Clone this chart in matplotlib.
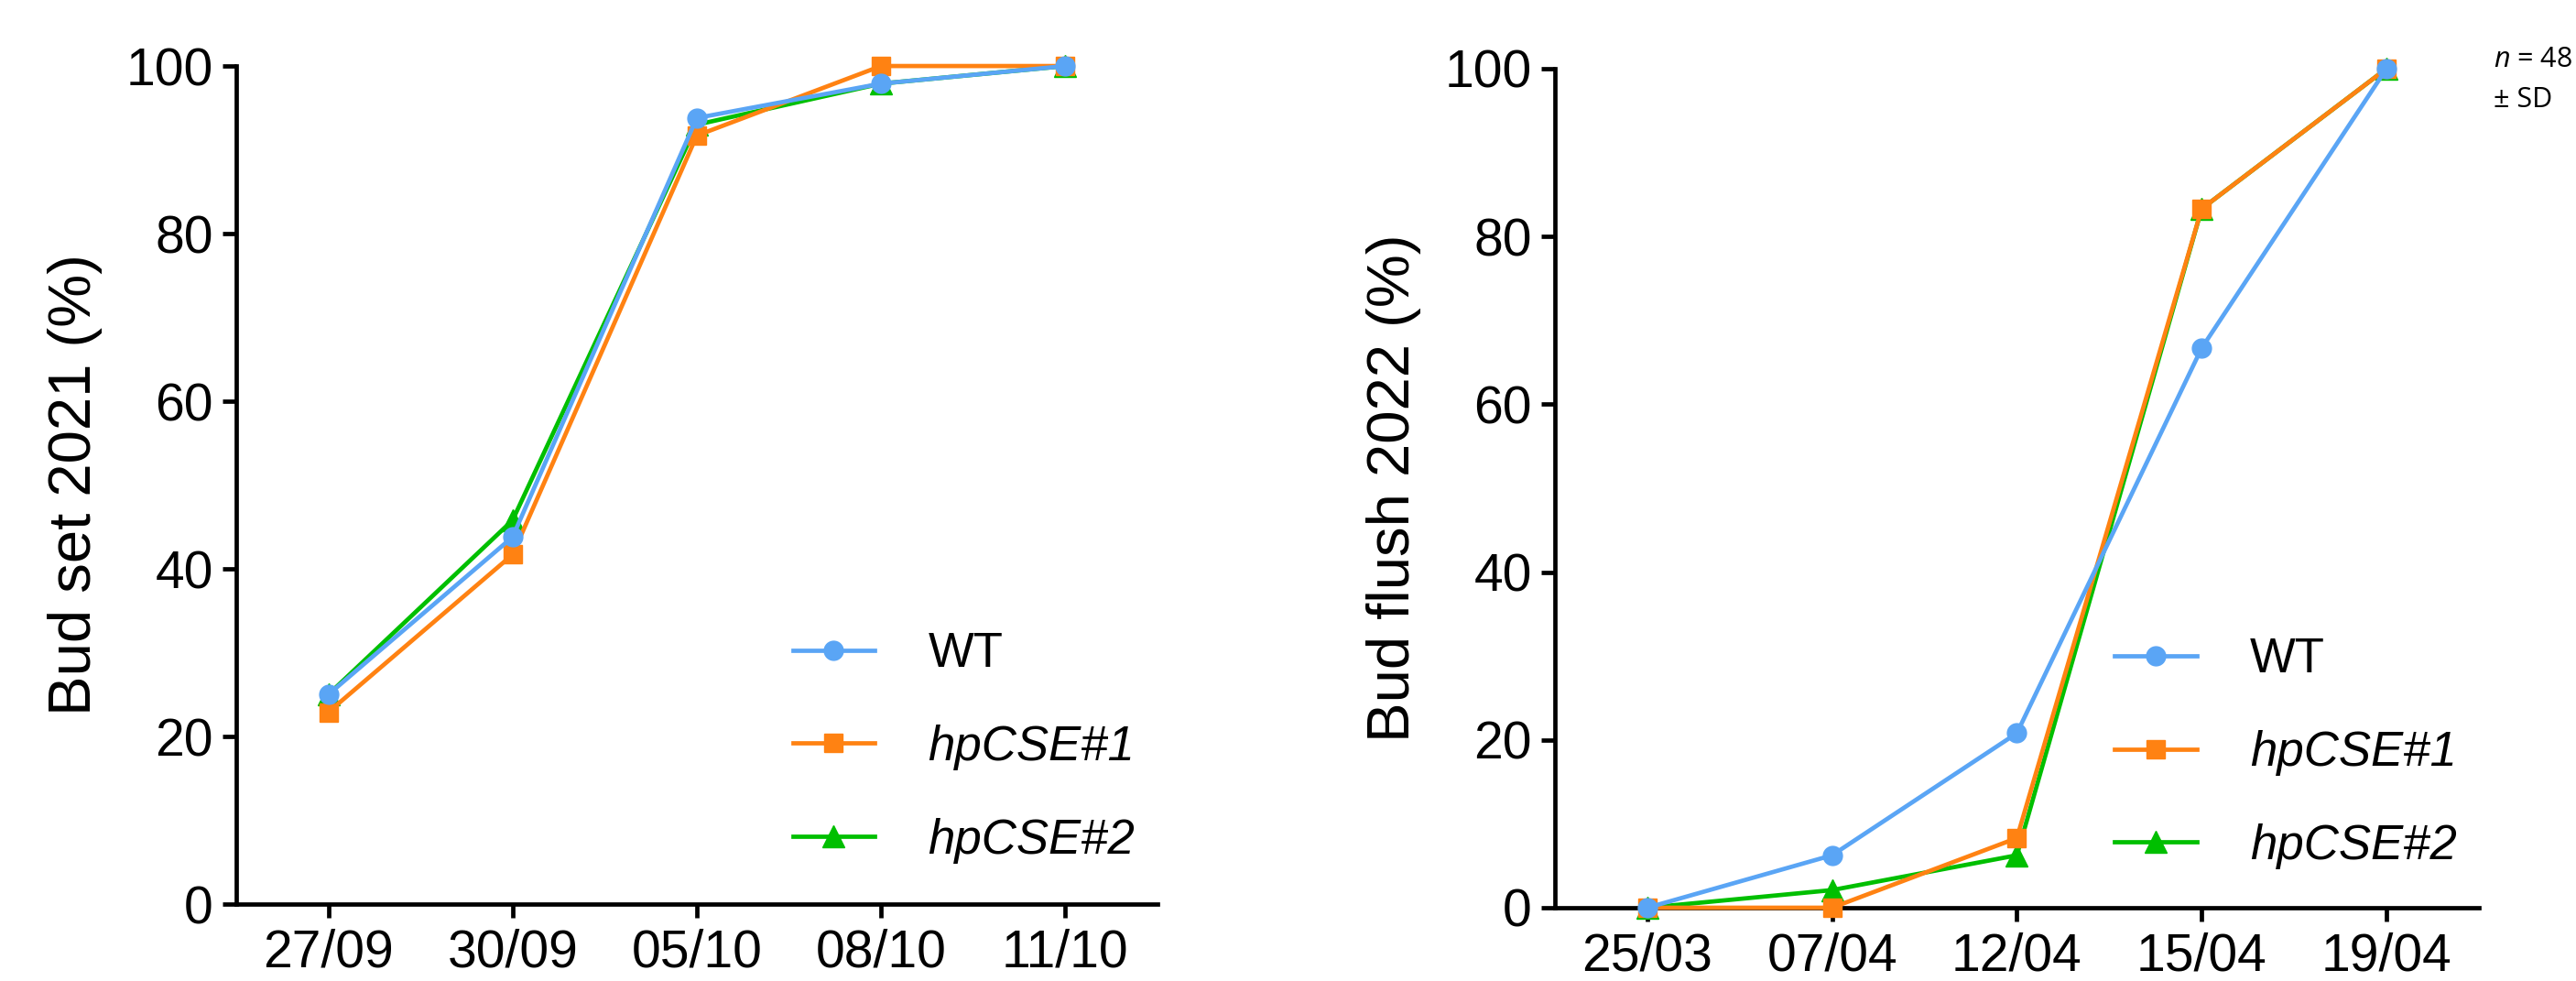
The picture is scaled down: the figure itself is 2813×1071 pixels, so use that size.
import matplotlib
matplotlib.use("Agg")
import matplotlib.pyplot as plt

# Datos
fechas_otono = ['27/09', '30/09', '05/10', '08/10', '11/10']
fechas_primavera = ['25/03', '07/04', '12/04', '15/04', '19/04']

budset_wt = [25.0, 43.8, 93.8, 97.9, 100.0]
budset_cse1 = [22.9, 41.7, 91.7, 100.0, 100.0]
budset_cse2 = [25.0, 45.8, 93.0, 97.9, 100.0]

flush_wt = [0.0, 6.25, 20.8, 66.7, 100.0]
flush_cse1 = [0.0, 0.0, 8.3, 83.3, 100.0]
flush_cse2 = [0.0, 2.1, 6.25, 83.3, 100.0]

nombres = ['WT', 'hpCSE#1', 'hpCSE#2']
colores = ['#5aa5f5', '#ff8212', '#00bf00']
marcadores = ['o', 's', '^']

plt.rcParams['font.family'] = ['Liberation Sans', 'DejaVu Sans']
plt.rcParams['mathtext.fontset'] = 'custom'
plt.rcParams['mathtext.rm'] = 'Open Sans'
plt.rcParams['mathtext.it'] = 'Open Sans:italic'

fig = plt.figure(figsize=(28.13, 10.71), dpi=100)
ax1 = fig.add_axes([0.0917, 0.0784, 0.3576, 0.8543])
ax2 = fig.add_axes([0.6036, 0.0747, 0.3587, 0.8553])


def dibujar(ax, fechas, series, ylabel):
    x = list(range(len(fechas)))
    lineas = []
    # verde abajo, luego naranja, azul arriba
    for i in [2, 1, 0]:
        ms = 17 if marcadores[i] == '^' else 15
        l, = ax.plot(x, series[i], color=colores[i], marker=marcadores[i],
                     markersize=ms, linewidth=3.4, label=nombres[i],
                     zorder=3 + (2 - i), clip_on=False)
        lineas.append(l)
    lineas = lineas[::-1]

    ax.set_xlim(-0.5, 4.5)
    ax.set_ylim(0, 100)
    ax.set_xticks(x)
    ax.set_xticklabels(fechas)
    ax.set_yticks([0, 20, 40, 60, 80, 100])
    for s in ['top', 'right']:
        ax.spines[s].set_visible(False)
    for s in ['left', 'bottom']:
        ax.spines[s].set_linewidth(3.4)
    ax.tick_params(direction='out', length=11, width=3.4, labelsize=41)
    ax.tick_params(axis='x', pad=8)
    ax.tick_params(axis='y', pad=7)
    ax.set_ylabel(ylabel, fontsize=47)
    ax.yaxis.set_label_coords(-0.145, 0.5)
    return lineas


l1 = dibujar(ax1, fechas_otono, [budset_wt, budset_cse1, budset_cse2],
             'Bud set 2021 (%)')
l2 = dibujar(ax2, fechas_primavera, [flush_wt, flush_cse1, flush_cse2],
             'Bud flush 2022 (%)')

for ax, lin, pos in [(ax1, l1, (0.604, 0.187)), (ax2, l2, (0.6055, 0.1845))]:
    leg = ax.legend(lin, nombres, loc='center left', bbox_to_anchor=pos,
                    frameon=False, fontsize=38, handlelength=1.7,
                    handletextpad=1.1, labelspacing=0.98, borderpad=0,
                    borderaxespad=0)
    for t in leg.get_texts()[1:]:
        t.set_fontstyle('italic')

fig.text(2723 / 2813, 1 - 73 / 1071, r'$n$ = 48', fontsize=22,
         family='Open Sans', va='baseline')
fig.text(2723 / 2813, 1 - 117 / 1071, '± SD', fontsize=22,
         family='Open Sans', va='baseline')

plt.savefig('out.png', dpi=100)
plt.close()
